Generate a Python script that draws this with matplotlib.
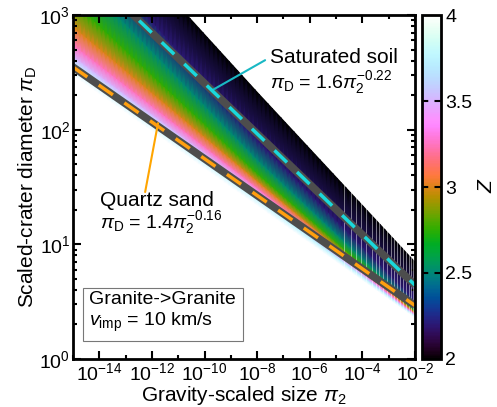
import numpy as np
import matplotlib
matplotlib.use("Agg")
import matplotlib.pyplot as plt
from matplotlib import _cm
from matplotlib.colors import LinearSegmentedColormap
from matplotlib.ticker import FixedLocator, NullFormatter

plt.rcParams["font.family"] = ["Liberation Sans", "DejaVu Sans"]
plt.rcParams["mathtext.fontset"] = "custom"
plt.rcParams["mathtext.rm"] = "Liberation Sans"
plt.rcParams["mathtext.it"] = "Liberation Sans:italic"
plt.rcParams["mathtext.default"] = "regular"

# fan of Z-model scaling curves, pi_D read at three pi2 columns
pi2_cols = [1e-15, 1e-8, 1e-2]
z_levels = [2.0, 2.2, 2.5, 2.75, 3.0, 3.25, 3.5, 3.75, 4.0]
piD_left = [12300, 5100, 2420, 1300, 780, 540, 430, 370, 300]
piD_mid = [212, 80, 54, 41, 35, 30.5, 28, 25, 22]
piD_right = [7.0, 3.2, 2.75, 2.6, 2.5, 2.43, 2.38, 2.34, 2.3]

# sampling gaps visible on the right side of the fan (log10 pi2)
gap_logx = [-4.7, -4.45, -4.25, -4.05, -3.85, -3.65, -3.5, -3.35, -3.2, -3.05,
            -2.92, -2.8, -2.68, -2.56, -2.45, -2.34, -2.24, -2.14, -2.06]

# reference fits
soil_coef, soil_exp = 1.6, 0.22
sand_coef, sand_exp = 1.4, 0.16

cmap = LinearSegmentedColormap("helix", _cm.cubehelix(0.8, 0.5, -1.5, 2.3))


def fan_value(row, logx):
    cols = np.log10(pi2_cols)
    vals = np.log10([piD_left[row], piD_mid[row], piD_right[row]])
    return 10 ** np.interp(logx, cols, vals)


def main():
    fig = plt.figure(figsize=(4.97, 4.07), dpi=100)
    ax = fig.add_axes([0.147, 0.118, 0.688, 0.845])
    cax = fig.add_axes([0.849, 0.118, 0.038, 0.845])

    lx = np.linspace(-15, -2, 80)
    Y = np.array([fan_value(i, lx) for i in range(len(z_levels))])
    X = np.tile(10 ** lx, (len(z_levels), 1))
    C = np.tile(np.array(z_levels)[:, None], (1, len(lx)))
    mesh = ax.pcolormesh(X, Y, C, cmap=cmap, vmin=2, vmax=4, shading="gouraud", rasterized=True)

    # thin white gaps between sampled columns
    g = np.array(gap_logx)
    top = fan_value(0, g)
    bot = fan_value(len(z_levels) - 1, g)
    ax.vlines(10 ** g, bot * 0.97, top * 1.05, color="white", lw=0.6, alpha=0.55, zorder=2)

    xs = np.array([1e-15, 1e-2])
    for coef, ex, col in [(soil_coef, soil_exp, "#1ad8dc"), (sand_coef, sand_exp, "#ff9f0f")]:
        yy = coef * xs ** (-ex)
        ax.plot(xs, yy, color="#4d4d4d", lw=5.5, solid_capstyle="butt", zorder=3)
        ax.plot(xs, yy, color=col, lw=2.5, dashes=(5, 4), zorder=4)

    ax.set_xscale("log")
    ax.set_yscale("log")
    ax.set_xlim(1e-15, 1e-2)
    ax.set_ylim(1, 1000)

    major_x = [1e-14, 1e-12, 1e-10, 1e-8, 1e-6, 1e-4, 1e-2]
    ax.xaxis.set_major_locator(FixedLocator(major_x))
    ax.xaxis.set_minor_locator(FixedLocator([1e-15, 1e-13, 1e-11, 1e-9, 1e-7, 1e-5, 1e-3]))
    ax.set_xticklabels([r"$10^{%d}$" % int(np.log10(v)) for v in major_x])
    ax.xaxis.set_minor_formatter(NullFormatter())
    ax.set_yticks([1, 10, 100, 1000])
    ax.set_yticklabels([r"$10^{0}$", r"$10^{1}$", r"$10^{2}$", r"$10^{3}$"])

    ax.tick_params(which="both", direction="in", top=True, right=True, width=1.5, labelsize=14, pad=2)
    ax.tick_params(which="major", length=6)
    ax.tick_params(which="minor", length=3)
    for s in ax.spines.values():
        s.set_linewidth(2)
        s.set_zorder(6)

    ax.set_xlabel(r"Gravity-scaled size $\it{\pi}_2$", fontsize=15, labelpad=0)
    ax.set_ylabel(r"Scaled-crater diameter $\it{\pi}_\mathrm{D}$", fontsize=15, labelpad=0)

    # annotations
    ax.annotate("", xy=(1.95e-10, 221), xytext=(2e-8, 404),
                arrowprops=dict(arrowstyle="-", color="#19b8c4", lw=1.5, shrinkA=0, shrinkB=0))
    ax.text(3.1e-8, 430, "Saturated soil", fontsize=15, va="center", ha="left")
    ax.text(3.1e-8, 260, r"$\it{\pi}_\mathrm{D}$ = 1.6$\it{\pi}_2^{-0.22}$", fontsize=14, va="center", ha="left")

    ax.annotate("", xy=(1.7e-12, 114), xytext=(5.5e-13, 28.6),
                arrowprops=dict(arrowstyle="-", color="#ffa500", lw=1.5, shrinkA=0, shrinkB=0))
    ax.text(1.07e-14, 24.3, "Quartz sand", fontsize=15, va="center", ha="left")
    ax.text(1.07e-14, 15.6, r"$\it{\pi}_\mathrm{D}$ = 1.4$\it{\pi}_2^{-0.16}$", fontsize=14, va="center", ha="left")

    ax.text(0.048, 0.135, "Granite->Granite\n" + r"$\it{v}_\mathrm{imp}$ = 10 km/s", transform=ax.transAxes,
            fontsize=14, va="center", ha="left", linespacing=1.15,
            bbox=dict(boxstyle="square,pad=0.35", fc="white", ec="#777777", lw=0.8))

    # colorbar
    cb = fig.colorbar(mesh, cax=cax, ticks=[2, 2.5, 3, 3.5, 4])
    cb.ax.set_yticklabels(["2", "2.5", "3", "3.5", "4"])
    cb.ax.tick_params(length=0, labelsize=14, pad=3)
    cb.outline.set_linewidth(2)
    for lev in [2.5, 3, 3.5]:
        cax.axhline(lev, color="black", lw=1.5, dashes=(3, 3))
    cb.set_label("Z", fontsize=15, style="italic", rotation=90, labelpad=4)

    fig.savefig("out.png", dpi=100)
    plt.close(fig)


if __name__ == "__main__":
    main()
